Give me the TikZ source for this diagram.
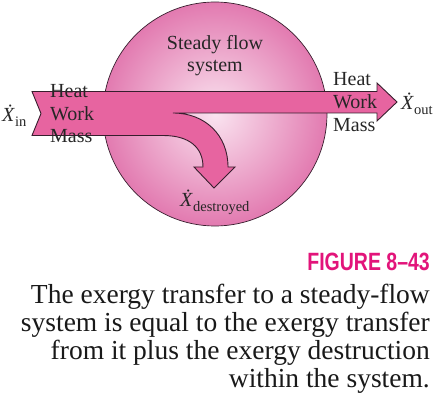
\documentclass[tikz,border=0pt]{standalone}
\usepackage{fontspec}
\setmainfont{Liberation Serif}
\newfontfamily\figfont[FakeStretch=0.78]{Liberation Sans}
\usetikzlibrary{shadings}
\definecolor{bandpink}{RGB}{231,100,160}
\definecolor{outerpink}{RGB}{226,122,176}
\definecolor{innerpink}{RGB}{250,228,240}
\definecolor{edgedark}{RGB}{55,30,45}
\definecolor{figmag}{RGB}{226,20,122}
\newcommand{\xdotsub}[1]{\textit{\.X}\raisebox{-4.5pt}{\fontsize{14.5}{14.5}\selectfont #1}}
\begin{document}
\begin{tikzpicture}[x=1pt,y=-1pt,
  lbl/.style={font=\fontsize{20}{22}\selectfont, inner sep=0pt, text=black!85},
  band/.style={fill=bandpink, draw=edgedark, line width=0.9pt, line join=miter},
  sys/.style={draw=edgedark, line width=0.7pt, inner color=innerpink, outer color=outerpink},
  captext/.style={font=\fontsize{27.5}{28}\selectfont, inner sep=0pt, anchor=base east, text=black!90}]
\useasboundingbox (0,0) rectangle (434,409);
% system circle
\path[sys] (215,114) circle[radius=112];
\node[lbl, anchor=base] (sf1) at (215,50) {Steady flow};
\node[lbl, anchor=base] (sf2) at (215,72) {system};
% band with two arrows
\path[band] (32,91.5) -- (377,91.5) -- (377,83) -- (397,102) -- (377,121) -- (377,113)
  -- (173,113) .. controls (205,113) and (228,135) .. (228,167)
  -- (235,167) -- (214,188) -- (194,167) -- (203,167)
  .. controls (203,148) and (190,135.5) .. (163,135.5)
  -- (32,135.5) -- (41,113.5) -- cycle;
% labels left
\node[lbl, anchor=base west] (heatL) at (50,98) {Heat};
\node[lbl, anchor=base west] (workL) at (50,120.5) {Work};
\node[lbl, anchor=base west] (massL) at (50,143) {Mass};
% labels right
\node[lbl, anchor=base west] (heatR) at (333,85.5) {Heat};
\node[lbl, anchor=base west] (workR) at (333,108.5) {Work};
\node[lbl, anchor=base west] (massR) at (333,131.5) {Mass};
% X dots
\node[lbl, anchor=base west] (xin) at (2,122) {\xdotsub{in}};
\node[lbl, anchor=base west] (xout) at (401,110) {\xdotsub{out}};
\node[lbl, anchor=base west] (xdes) at (180,207) {\xdotsub{destroyed}};
% caption
\node[inner sep=0pt, anchor=base east, text=figmag, font=\figfont\bfseries\fontsize{25}{25}\selectfont] (fig) at (430,270) {FIGURE 8–43};
\node[captext] (c1) at (430,303) {The exergy transfer to a steady-flow};
\node[captext] (c2) at (430,331) {system is equal to the exergy transfer};
\node[captext] (c3) at (430,359) {from it plus the exergy destruction};
\node[captext] (c4) at (430,387) {within the system.};
\end{tikzpicture}
\end{document}
